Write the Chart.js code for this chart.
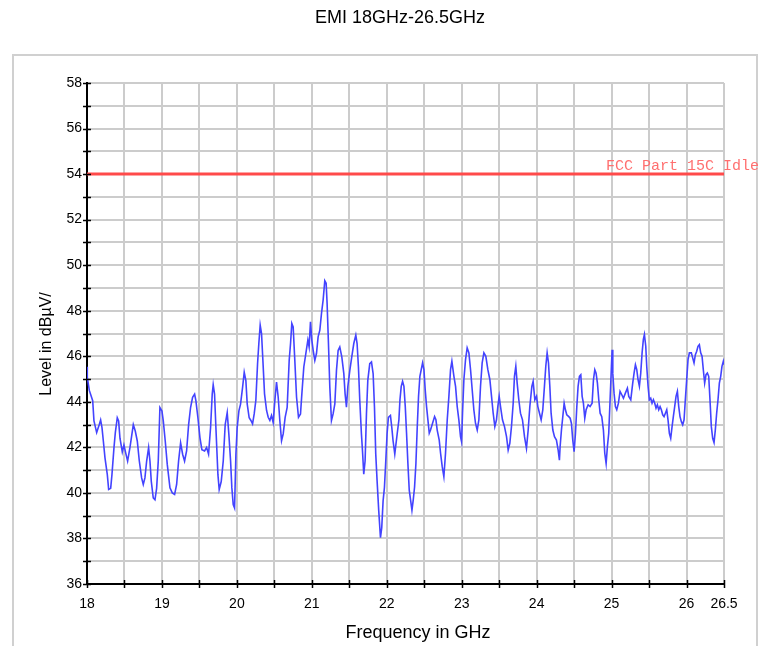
<!DOCTYPE html>
<html>
<head>
<meta charset="utf-8">
<script src="https://cdn.jsdelivr.net/npm/chart.js@4/dist/chart.umd.min.js"></script>
<style>
  html, body { margin: 0; padding: 0; background: #fff; }
  #wrap { width: 760px; height: 646px; position: relative; }
</style>
</head>
<body>
<div id="wrap"><canvas id="emi"></canvas></div>
<script>
// ===== DATA =====
const chartTitle = "EMI 18GHz-26.5GHz";
const xTitle = "Frequency in GHz";
const yTitle = "Level in dBµV/";
const limitName = "FCC Part 15C Idle";
const limitLevel = 54;
const freqRange = [18, 26.5];

const freqs = [
  18.000, 18.004, 18.031, 18.076, 18.093, 18.129, 18.164, 18.182, 18.200, 18.218,
  18.240, 18.271, 18.289, 18.316, 18.333, 18.360, 18.378, 18.404, 18.422, 18.440,
  18.471, 18.493, 18.516, 18.542, 18.573, 18.596, 18.618, 18.644, 18.671, 18.698,
  18.729, 18.751, 18.773, 18.796, 18.822, 18.840, 18.858, 18.884, 18.907, 18.929,
  18.951, 18.973, 19.000, 19.018, 19.044, 19.071, 19.107, 19.138, 19.169, 19.196,
  19.222, 19.249, 19.276, 19.302, 19.329, 19.356, 19.382, 19.409, 19.436, 19.453,
  19.480, 19.507, 19.533, 19.569, 19.596, 19.622, 19.649, 19.671, 19.684, 19.702,
  19.720, 19.747, 19.764, 19.791, 19.818, 19.844, 19.871, 19.893, 19.916, 19.933,
  19.951, 19.969, 19.987, 20.004, 20.027, 20.049, 20.076, 20.098, 20.120, 20.138,
  20.164, 20.187, 20.209, 20.231, 20.253, 20.276, 20.293, 20.311, 20.329, 20.347,
  20.369, 20.396, 20.418, 20.440, 20.462, 20.484, 20.507, 20.529, 20.551, 20.573,
  20.596, 20.618, 20.644, 20.671, 20.698, 20.716, 20.733, 20.751, 20.773, 20.796,
  20.822, 20.849, 20.867, 20.893, 20.920, 20.947, 20.964, 20.982, 21.000, 21.018,
  21.040, 21.062, 21.084, 21.107, 21.129, 21.151, 21.173, 21.191, 21.204, 21.222,
  21.240, 21.262, 21.284, 21.307, 21.329, 21.351, 21.373, 21.400, 21.427, 21.444,
  21.462, 21.480, 21.507, 21.533, 21.560, 21.587, 21.604, 21.622, 21.640, 21.662,
  21.676, 21.693, 21.711, 21.729, 21.747, 21.773, 21.796, 21.818, 21.836, 21.853,
  21.871, 21.893, 21.916, 21.933, 21.951, 21.969, 21.987, 22.004, 22.022, 22.049,
  22.067, 22.084, 22.107, 22.140, 22.162, 22.176, 22.193, 22.211, 22.229, 22.247,
  22.264, 22.282, 22.300, 22.318, 22.336, 22.353, 22.371, 22.389, 22.407, 22.424,
  22.442, 22.460, 22.478, 22.496, 22.513, 22.531, 22.549, 22.567, 22.584, 22.611,
  22.638, 22.656, 22.673, 22.700, 22.718, 22.740, 22.762, 22.784, 22.807, 22.829,
  22.851, 22.869, 22.896, 22.918, 22.940, 22.962, 22.984, 22.998, 23.011, 23.029,
  23.051, 23.073, 23.096, 23.118, 23.140, 23.162, 23.184, 23.207, 23.229, 23.251,
  23.273, 23.296, 23.322, 23.349, 23.376, 23.398, 23.420, 23.442, 23.464, 23.482,
  23.500, 23.518, 23.544, 23.571, 23.598, 23.620, 23.642, 23.664, 23.687, 23.704,
  23.722, 23.740, 23.762, 23.784, 23.811, 23.838, 23.864, 23.887, 23.909, 23.936,
  23.953, 23.976, 23.998, 24.016, 24.038, 24.060, 24.082, 24.104, 24.122, 24.140,
  24.158, 24.176, 24.193, 24.216, 24.238, 24.264, 24.287, 24.304, 24.313, 24.331,
  24.349, 24.367, 24.384, 24.402, 24.429, 24.447, 24.464, 24.482, 24.500, 24.518,
  24.536, 24.553, 24.571, 24.589, 24.607, 24.624, 24.642, 24.660, 24.687, 24.713,
  24.740, 24.758, 24.776, 24.793, 24.811, 24.829, 24.847, 24.869, 24.891, 24.909,
  24.927, 24.944, 24.962, 24.980, 24.998, 25.007, 25.016, 25.033, 25.051, 25.069,
  25.091, 25.113, 25.136, 25.158, 25.184, 25.211, 25.229, 25.256, 25.282, 25.300,
  25.318, 25.336, 25.353, 25.371, 25.389, 25.407, 25.424, 25.438, 25.456, 25.469,
  25.487, 25.504, 25.522, 25.540, 25.558, 25.576, 25.593, 25.611, 25.629, 25.647,
  25.664, 25.682, 25.700, 25.718, 25.736, 25.753, 25.771, 25.789, 25.807, 25.824,
  25.842, 25.860, 25.878, 25.896, 25.913, 25.931, 25.949, 25.967, 25.984, 26.002,
  26.020, 26.038, 26.064, 26.082, 26.100, 26.118, 26.136, 26.153, 26.171, 26.189,
  26.207, 26.224, 26.242, 26.260, 26.278, 26.296, 26.313, 26.331, 26.349, 26.367,
  26.384, 26.402, 26.420, 26.438, 26.456, 26.473, 26.491, 26.500
];

const levels = [
  45.54, 45.07, 44.50, 44.05, 43.16, 42.65, 43.00, 43.20, 42.87, 42.28,
  41.54, 40.80, 40.15, 40.20, 40.80, 41.99, 42.65, 43.30, 43.16, 42.40,
  41.80, 42.10, 41.76, 41.40, 41.99, 42.50, 43.00, 42.72, 42.28, 41.40,
  40.66, 40.37, 40.66, 41.40, 41.99, 41.40, 40.50, 39.78, 39.70, 40.20,
  41.40, 43.75, 43.60, 43.16, 42.28, 41.25, 40.22, 40.00, 39.93, 40.37,
  41.40, 42.20, 41.70, 41.40, 41.84, 43.00, 43.75, 44.20, 44.34, 44.05,
  43.30, 42.43, 41.90, 41.84, 41.99, 41.70, 42.87, 44.34, 44.75, 44.34,
  42.87, 40.80, 40.15, 40.50, 41.40, 43.00, 43.53, 42.57, 41.40, 40.22,
  39.49, 39.34, 41.70, 42.87, 43.60, 43.90, 44.63, 45.30, 44.93, 43.90,
  43.30, 43.18, 43.03, 43.47, 44.06, 45.68, 46.56, 47.37, 47.00, 45.82,
  44.35, 43.62, 43.32, 43.18, 43.40, 43.10, 44.06, 44.87, 44.21, 43.18,
  42.29, 42.59, 43.32, 43.76, 45.82, 46.56, 47.44, 47.29, 45.82, 44.21,
  43.32, 43.47, 44.35, 45.53, 46.12, 46.71, 46.41, 47.51, 46.71, 46.26,
  45.82, 46.12, 46.85, 47.15, 47.88, 48.47, 49.32, 49.21, 48.32, 46.56,
  44.65, 43.18, 43.47, 43.91, 45.38, 46.26, 46.41, 45.97, 45.24, 44.35,
  43.76, 44.65, 45.38, 45.97, 46.56, 46.93, 46.56, 45.53, 44.06, 42.59,
  41.85, 40.82, 41.41, 43.47, 44.94, 45.68, 45.75, 45.24, 43.76, 41.71,
  40.53, 39.21, 38.03, 38.47, 39.65, 40.24, 41.41, 42.59, 43.32, 43.40,
  42.88, 42.29, 41.71, 42.62, 43.21, 44.09, 44.68, 44.90, 44.68, 43.79,
  42.62, 41.29, 40.12, 39.68, 39.24, 39.68, 40.26, 41.29, 42.91, 44.24,
  45.12, 45.41, 45.71, 45.41, 44.53, 43.79, 43.21, 42.62, 42.76, 43.06,
  43.35, 43.21, 42.76, 42.32, 41.74, 41.15, 40.71, 41.74, 43.21, 44.24,
  45.41, 45.78, 45.12, 44.68, 43.79, 43.21, 42.47, 42.25, 43.50, 44.97,
  45.85, 46.37, 46.15, 45.41, 44.53, 43.65, 43.06, 42.76, 43.21, 44.68,
  45.71, 46.15, 46.00, 45.41, 44.97, 44.24, 43.50, 42.91, 43.21, 43.79,
  44.24, 43.79, 43.21, 42.91, 42.47, 41.88, 42.18, 42.91, 43.94, 45.12,
  45.56, 44.82, 44.09, 43.50, 43.21, 42.47, 41.96, 42.76, 43.79, 44.68,
  44.90, 44.09, 44.24, 43.79, 43.50, 43.21, 43.65, 44.68, 45.56, 46.15,
  45.71, 44.68, 43.50, 42.76, 42.47, 42.32, 41.88, 41.44, 42.03, 42.76,
  43.35, 43.94, 43.65, 43.43, 43.35, 43.28, 43.06, 42.32, 41.81, 42.62,
  43.79, 44.68, 45.12, 45.19, 44.24, 43.94, 43.28, 43.65, 43.87, 43.79,
  43.94, 44.97, 45.41, 45.26, 44.82, 44.09, 43.50, 43.35, 42.76, 41.74,
  41.29, 42.03, 42.62, 44.09, 45.56, 46.29, 45.26, 44.38, 43.79, 43.65,
  43.94, 44.46, 44.31, 44.16, 44.38, 44.60, 44.24, 44.09, 44.82, 45.26,
  45.63, 45.41, 44.97, 44.68, 45.26, 46.15, 46.74, 46.96, 46.44, 45.56,
  44.68, 44.09, 44.16, 43.94, 44.09, 43.94, 43.72, 43.87, 43.65, 43.79,
  43.65, 43.43, 43.35, 43.50, 43.65, 43.21, 42.62, 42.40, 42.91, 43.35,
  43.79, 44.24, 44.46, 43.79, 43.35, 43.13, 42.99, 43.21, 44.09, 44.97,
  45.85, 46.15, 46.15, 45.93, 45.71, 46.07, 46.22, 46.44, 46.51, 46.15,
  46.00, 45.41, 44.82, 45.19, 45.26, 45.12, 44.09, 42.91, 42.40, 42.21,
  42.76, 43.50, 44.09, 44.82, 45.12, 45.56, 45.78, 45.63
];

const FONT = "'Liberation Sans', Arial, sans-serif";

// ===== SEGÉD PLUGINOK =====
// keret, cím, tengelycímek
const frame = {
  id: "frame",
  beforeDraw(chart) {
    const c = chart.ctx;
    c.save();
    c.fillStyle = "#fff";
    c.fillRect(0, 0, chart.width, chart.height);
    c.strokeStyle = "#d0d0d0";
    c.lineWidth = 2;
    c.strokeRect(13, 55, 744, 620);
    c.fillStyle = "#000";
    c.textAlign = "center";
    c.textBaseline = "middle";
    c.font = "18px " + FONT;
    c.fillText(chartTitle, 400, 18);
    c.font = "18px " + FONT;
    c.fillText(xTitle, 418, 633);
    c.translate(47, 344);
    c.rotate(-Math.PI / 2);
    c.font = "16px " + FONT;
    c.fillText(yTitle, 0, 0);
    c.restore();
  }
};

// tengely jelölők (keresztben a tengelyen) + határérték felirat
const axisMarks = {
  id: "axisMarks",
  afterDraw(chart) {
    const c = chart.ctx;
    const xs = chart.scales.x, ys = chart.scales.y;
    const area = chart.chartArea;
    c.save();
    c.strokeStyle = "#000";
    c.lineWidth = 1.5;
    c.beginPath();
    xs.ticks.forEach(t => {
      const px = Math.round(xs.getPixelForValue(t.value)) + 0.5;
      c.moveTo(px, area.bottom - 4);
      c.lineTo(px, area.bottom + 4);
    });
    ys.ticks.forEach(t => {
      const py = Math.round(ys.getPixelForValue(t.value)) + 0.5;
      c.moveTo(area.left - 4, py);
      c.lineTo(area.left + 4, py);
    });
    c.stroke();

    c.fillStyle = "#ff6f6f";
    c.font = "15px 'Liberation Mono', 'DejaVu Sans Mono', monospace";
    c.textAlign = "left";
    c.textBaseline = "alphabetic";
    c.fillText(limitName, 606, ys.getPixelForValue(limitLevel) - 4);
    c.restore();
  }
};

const ctx = document.getElementById("emi").getContext("2d");
const trace = freqs.map((f, i) => ({ x: f, y: levels[i] }));

new Chart(ctx, {
  type: "line",
  data: {
    datasets: [
      {
        label: "EMI",
        data: trace,
        borderColor: "#4343ff",
        borderWidth: 1.6,
        pointRadius: 0,
        tension: 0
      },
      {
        label: limitName,
        data: [{ x: freqRange[0], y: limitLevel }, { x: freqRange[1], y: limitLevel }],
        borderColor: "#ff4a4a",
        borderWidth: 3,
        pointRadius: 0
      }
    ]
  },
  options: {
    responsive: true,
    maintainAspectRatio: false,
    animation: false,
    layout: { padding: { left: 30, right: 36, top: 83, bottom: 0 } },
    plugins: {
      legend: { display: false },
      title: { display: false },
      tooltip: { enabled: false }
    },
    scales: {
      x: {
        type: "linear",
        min: freqRange[0],
        max: freqRange[1],
        afterFit: s => { s.height = 62; },
        grid: { color: "#cccccc", lineWidth: 2, drawTicks: false },
        border: { color: "#000", width: 2 },
        ticks: {
          stepSize: 0.5,
          autoSkip: false,
          maxRotation: 0,
          padding: 12,
          color: "#000",
          font: { family: FONT, size: 14 },
          callback: v => (Number.isInteger(v) || v === 26.5) ? String(v) : ""
        }
      },
      y: {
        min: 36,
        max: 58,
        afterFit: s => { s.width = 57; },
        grid: { color: "#cccccc", lineWidth: 2, drawTicks: false },
        border: { color: "#000", width: 2 },
        ticks: {
          stepSize: 1,
          autoSkip: false,
          padding: 5,
          color: "#000",
          font: { family: FONT, size: 14 },
          callback: v => (v % 2 === 0) ? String(v) : ""
        }
      }
    }
  },
  plugins: [frame, axisMarks]
});
</script>
</body>
</html>
